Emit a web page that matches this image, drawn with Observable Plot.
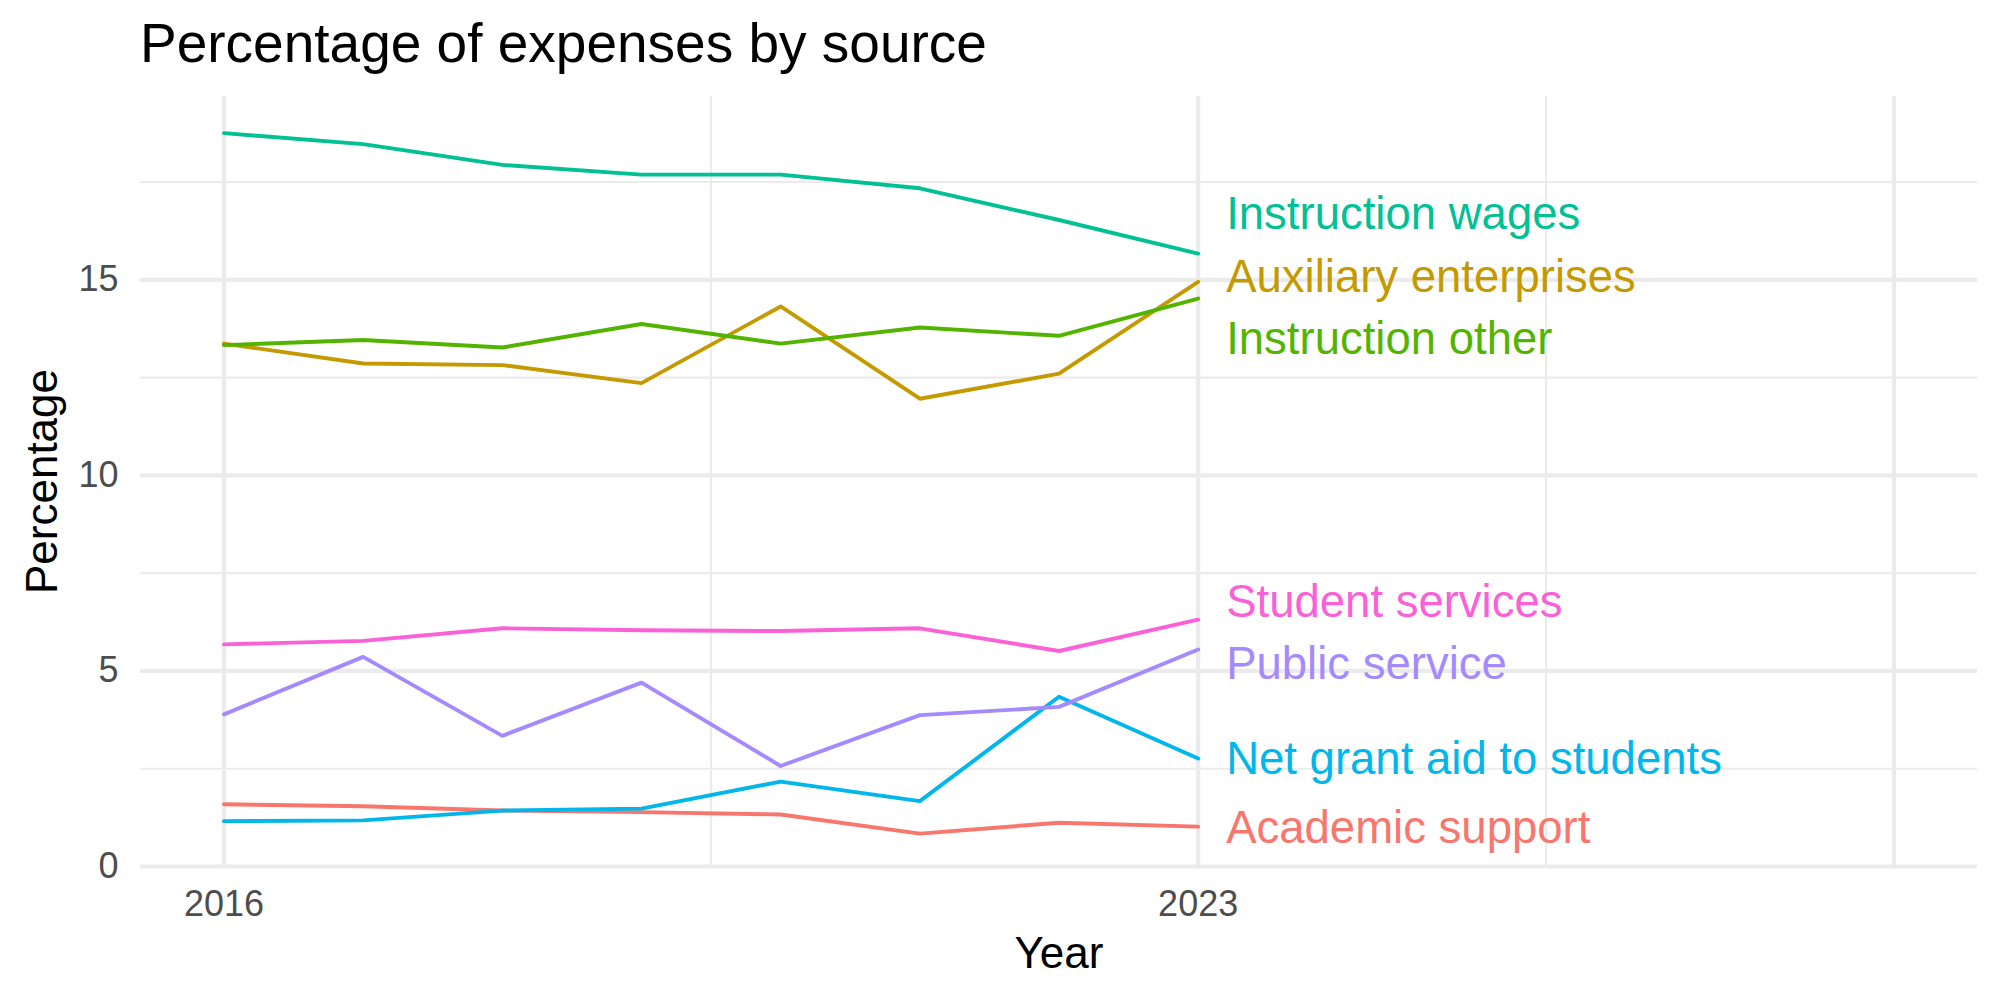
<!DOCTYPE html>
<html>
<head>
<meta charset="utf-8">
<script src="https://cdn.jsdelivr.net/npm/d3@7"></script>
<script src="https://cdn.jsdelivr.net/npm/@observablehq/plot@0.6"></script>
<style>
  html, body { margin: 0; padding: 0; background: #ffffff; }
  #wrap { width: 2000px; font-family: 'Liberation Sans', Arial, sans-serif; }
  #title { box-sizing: border-box; height: 80px; padding: 16px 0 0 140px; font-size: 55px; line-height: 55px; color: #000; white-space: nowrap; }
</style>
</head>
<body>
<div id="wrap">
  <div id="title">Percentage of expenses by source</div>
  <div id="chart"></div>
</div>
<script>
// ---- data ----
const years = [2016, 2017, 2018, 2019, 2020, 2021, 2022, 2023];
const sources = [
  "Academic support",
  "Auxiliary enterprises",
  "Instruction other",
  "Instruction wages",
  "Net grant aid to students",
  "Public service",
  "Student services"
];
const academicSupport      = [1.59, 1.54, 1.43, 1.39, 1.33, 0.84, 1.12, 1.02];
const auxiliaryEnterprises = [13.37, 12.86, 12.82, 12.36, 14.32, 11.96, 12.60, 14.95];
const instructionOther     = [13.33, 13.46, 13.27, 13.87, 13.37, 13.78, 13.57, 14.52];
const instructionWages     = [18.75, 18.47, 17.94, 17.69, 17.69, 17.34, 16.53, 15.67];
const netGrantAid          = [1.16, 1.18, 1.43, 1.48, 2.17, 1.67, 4.34, 2.76];
const publicService        = [3.89, 5.36, 3.34, 4.70, 2.57, 3.87, 4.08, 5.55];
const studentServices      = [5.68, 5.77, 6.09, 6.04, 6.02, 6.09, 5.51, 6.31];
// repelled label positions (in percentage units) for the end labels
const labelY = [0.97, 15.07, 13.47, 16.68, 2.74, 5.16, 6.75];
const colors = ["#F8766D", "#C49A00", "#53B400", "#00C094", "#00B6EB", "#A58AFF", "#FB61D7"];

// axis breaks / grid
const xBreaks = [2016, 2023];
const xMajorGrid = [2016, 2023, 2028];
const xMinorGrid = [2019.5, 2025.5];
const yBreaks = [0, 5, 10, 15];
const yMinorGrid = [2.5, 7.5, 12.5, 17.5];
const xLimits = [2016, 2028];
const yLimits = [0, 18.75];

// ---- build table ----
const series = [academicSupport, auxiliaryEnterprises, instructionOther, instructionWages, netGrantAid, publicService, studentServices];
const rows = [];
sources.forEach((s, i) => years.forEach((y, j) => rows.push({source: s, year: y, value: series[i][j]})));
const labels = sources.map((s, i) => ({source: s, year: years[years.length - 1], y: labelY[i]}));

const xPad = (xLimits[1] - xLimits[0]) * 0.05;
const yPadTop = (yLimits[1] - yLimits[0]) * 0.05;

const chart = Plot.plot({
  width: 2000,
  height: 920,
  marginTop: 16,
  marginBottom: 134,
  marginLeft: 140,
  marginRight: 23,
  style: {fontFamily: "'Liberation Sans', Arial, sans-serif", background: "#ffffff"},
  x: {domain: [xLimits[0] - xPad, xLimits[1] + xPad]},
  y: {domain: [yLimits[0], yLimits[1] + yPadTop]},
  color: {domain: sources, range: colors},
  marks: [
    Plot.ruleY(yMinorGrid, {stroke: "#EBEBEB", strokeWidth: 2.1}),
    Plot.ruleX(xMinorGrid, {stroke: "#EBEBEB", strokeWidth: 2.1}),
    Plot.ruleY(yBreaks, {stroke: "#EBEBEB", strokeWidth: 4.2}),
    Plot.ruleX(xMajorGrid, {stroke: "#EBEBEB", strokeWidth: 4.2}),
    Plot.axisX({ticks: xBreaks, tickSize: 0, tickPadding: 24, fontSize: 36, color: "#4D4D4D", tickFormat: d => String(d), label: null}),
    Plot.axisY({ticks: yBreaks, tickSize: 0, tickPadding: 22, fontSize: 36, color: "#4D4D4D", label: null}),
    Plot.line(rows, {x: "year", y: "value", z: "source", stroke: "source", strokeWidth: 3.9, strokeLinejoin: "round"}),
    Plot.text(labels, {x: "year", y: "y", text: "source", fill: "source", textAnchor: "start", lineAnchor: "middle", dx: 28, fontSize: 45.5}),
    Plot.text(["Percentage"], {text: d => d, frameAnchor: "left", rotate: -90, dx: -98, fontSize: 44, fill: "#000000", textAnchor: "middle", lineAnchor: "middle"}),
    Plot.text(["Year"], {text: d => d, frameAnchor: "bottom", dy: 87, fontSize: 44, fill: "#000000", textAnchor: "middle", lineAnchor: "middle"})
  ]
});
document.getElementById("chart").appendChild(chart);
</script>
</body>
</html>
